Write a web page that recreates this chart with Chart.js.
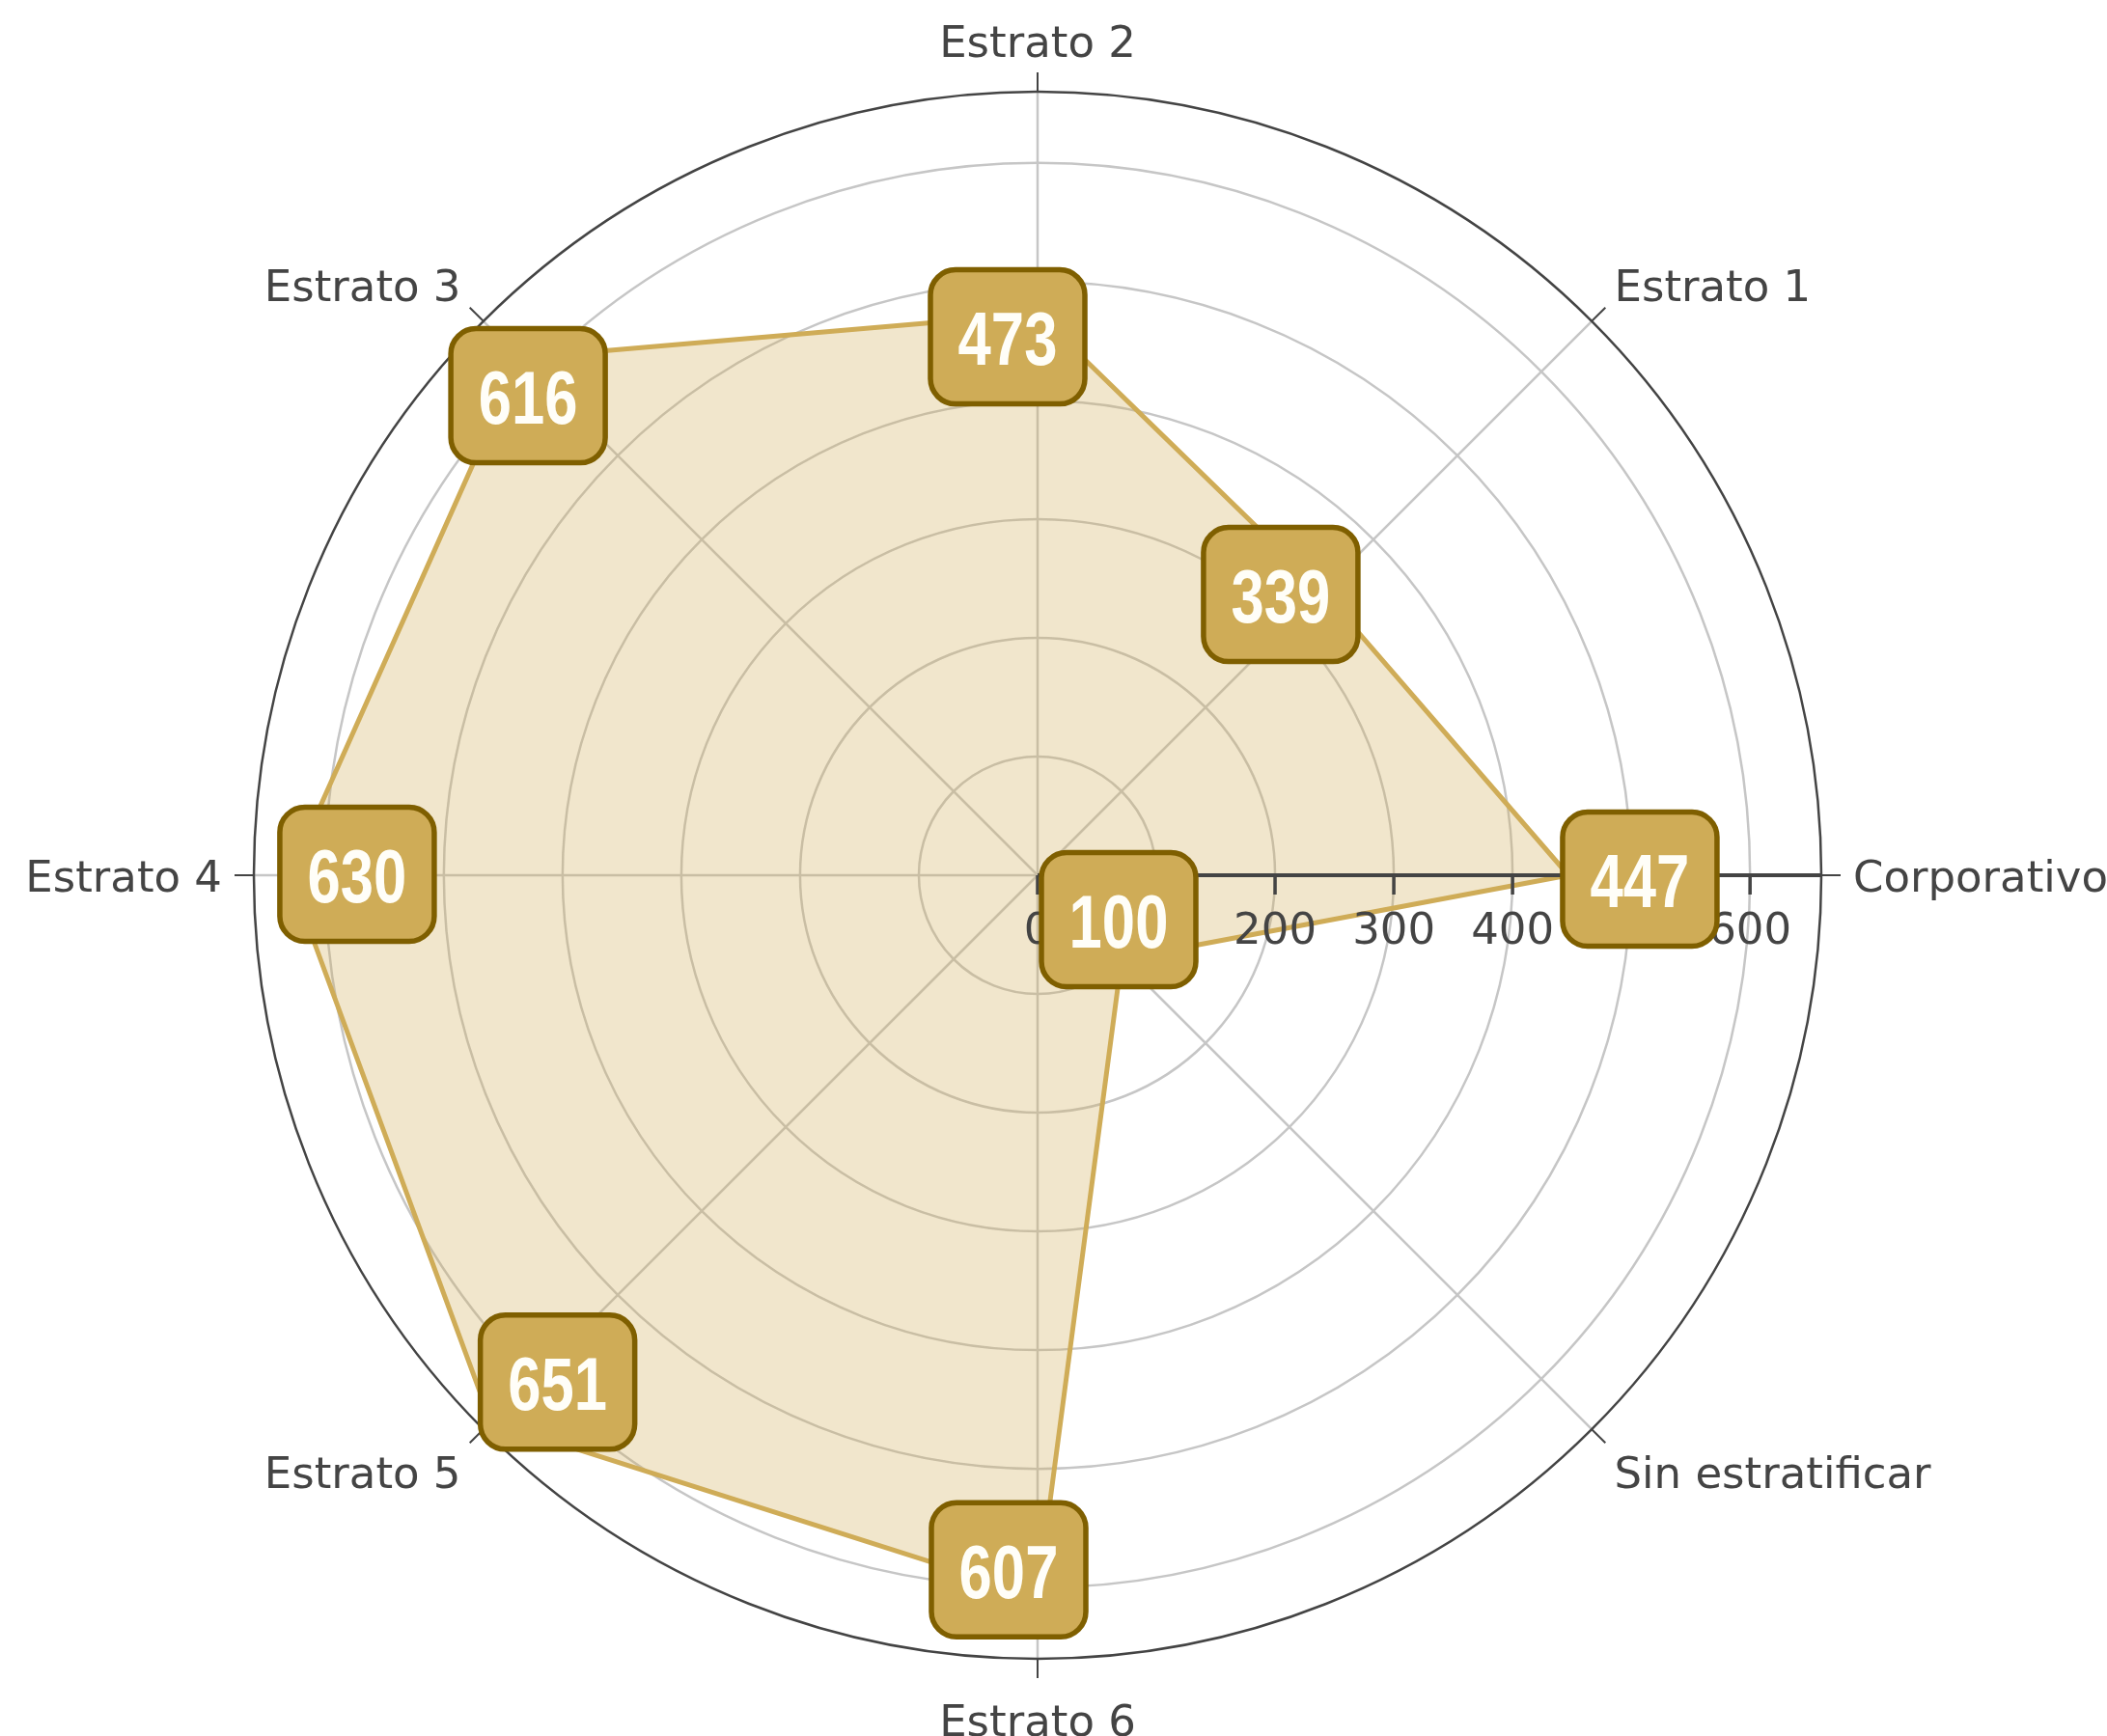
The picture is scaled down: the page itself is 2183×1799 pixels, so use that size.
<!DOCTYPE html>
<html>
<head>
<meta charset="utf-8">
<title>Radar estratos</title>
<script src="https://cdn.jsdelivr.net/npm/chart.js@4.4.1/dist/chart.umd.min.js"></script>
<style>
  html, body { margin: 0; padding: 0; background: #fff; }
  #chart { display: block; }
</style>
</head>
<body>
<canvas id="chart" width="2183" height="1799"></canvas>
<script>
// categorias en sentido antihorario, empezando por la derecha
const categories = ['Corporativo', 'Estrato 1', 'Estrato 2', 'Estrato 3', 'Estrato 4', 'Estrato 5', 'Estrato 6', 'Sin estratificar'];
const values = [447, 339, 473, 616, 630, 651, 607, 100];
const radialTicks = [0, 100, 200, 300, 400, 500, 600];
const radialMax = 660;

// desplazamiento (px) de cada etiqueta respecto a su punto
const labelShift = [[74, 4], [-43, 4], [-31, 24], [8, 39], [70, -1], [69, -41], [-30, -27], [-3, -41]];

// Chart.js gira en sentido horario, asi que se invierte el orden
const order = [0, 7, 6, 5, 4, 3, 2, 1];
const chartLabels = order.map(i => categories[i]);
const chartValues = order.map(i => values[i]);

const axisColor = '#444';
const gold = '#CFAC57';
const goldDark = '#7F5F00';

const polarDecor = {
    id: 'polarDecor',
    afterDatasetsDraw(chart) {
        const ctx = chart.ctx;
        const r = chart.scales.r;
        const cx = r.xCenter, cy = r.yCenter;
        const R = r.getDistanceFromCenterForValue(radialMax);
        ctx.save();

        // borde exterior
        ctx.beginPath();
        ctx.arc(cx, cy, R, 0, Math.PI * 2);
        ctx.strokeStyle = axisColor;
        ctx.lineWidth = 2.5;
        ctx.stroke();

        // eje radial con sus marcas y numeros
        ctx.beginPath();
        ctx.moveTo(cx, cy);
        ctx.lineTo(cx + R, cy);
        ctx.lineWidth = 4;
        ctx.stroke();
        ctx.font = '45px "DejaVu Sans"';
        ctx.fillStyle = axisColor;
        ctx.textAlign = 'center';
        ctx.textBaseline = 'alphabetic';
        radialTicks.forEach(v => {
            const x = cx + r.getDistanceFromCenterForValue(v);
            ctx.beginPath();
            ctx.moveTo(x, cy);
            ctx.lineTo(x, cy + 20);
            ctx.lineWidth = 3.5;
            ctx.stroke();
            ctx.fillText(String(v), x, cy + 71);
        });

        // marcas angulares y nombres de categoria
        chartLabels.forEach((lab, i) => {
            const p0 = r.getPointPosition(i, R);
            const p1 = r.getPointPosition(i, R + 20);
            ctx.beginPath();
            ctx.moveTo(p0.x, p0.y);
            ctx.lineTo(p1.x, p1.y);
            ctx.lineWidth = 2;
            ctx.stroke();

            const p = r.getPointPosition(i, R + 33);
            const cos = Math.cos(p.angle);
            const up = -Math.sin(p.angle);
            ctx.textAlign = cos > 0.01 ? 'left' : (cos < -0.01 ? 'right' : 'center');
            const mid = p.y - up * (up > 0 ? 20 : 30);
            ctx.fillText(lab, p.x, mid + 16.5);
        });

        // etiquetas de valor
        chartValues.forEach((v, i) => {
            const p = r.getPointPosition(i, r.getDistanceFromCenterForValue(v));
            const s = labelShift[order[i]];
            const w = 160, h = 139;
            const bx = p.x + s[0], by = p.y + s[1];
            ctx.beginPath();
            ctx.roundRect(bx - w / 2, by - h / 2, w, h, 26);
            ctx.fillStyle = gold;
            ctx.fill();
            ctx.lineWidth = 5.5;
            ctx.strokeStyle = goldDark;
            ctx.stroke();

            // texto estrecho: Liberation Sans Bold comprimido en horizontal
            ctx.save();
            ctx.translate(bx, by + 29);
            ctx.scale(0.8, 1);
            ctx.fillStyle = '#fffef8';
            ctx.font = 'bold 77px "Liberation Sans", Arial, sans-serif';
            ctx.textAlign = 'center';
            ctx.textBaseline = 'alphabetic';
            ctx.fillText(String(v), 0, 0);
            ctx.restore();
        });

        ctx.restore();
    }
};

new Chart(document.getElementById('chart'), {
    type: 'radar',
    data: {
        labels: chartLabels,
        datasets: [{
            data: chartValues,
            borderColor: gold,
            borderWidth: 5,
            backgroundColor: 'rgba(207,172,87,0.3)',
            fill: true,
            pointRadius: 0,
            borderJoinStyle: 'round'
        }]
    },
    options: {
        responsive: false,
        animation: false,
        devicePixelRatio: 1,
        layout: { padding: { left: 263, right: 296, top: 95, bottom: 80 } },
        plugins: {
            legend: { display: false },
            tooltip: { enabled: false }
        },
        scales: {
            r: {
                min: 0,
                max: radialMax,
                startAngle: 90,
                ticks: { display: false, stepSize: 100, includeBounds: false },
                pointLabels: { display: false },
                grid: { circular: true, color: '#c6c6c6', lineWidth: 2.5 },
                angleLines: { color: '#c6c6c6', lineWidth: 2.5 }
            }
        }
    },
    plugins: [polarDecor]
});
</script>
</body>
</html>
